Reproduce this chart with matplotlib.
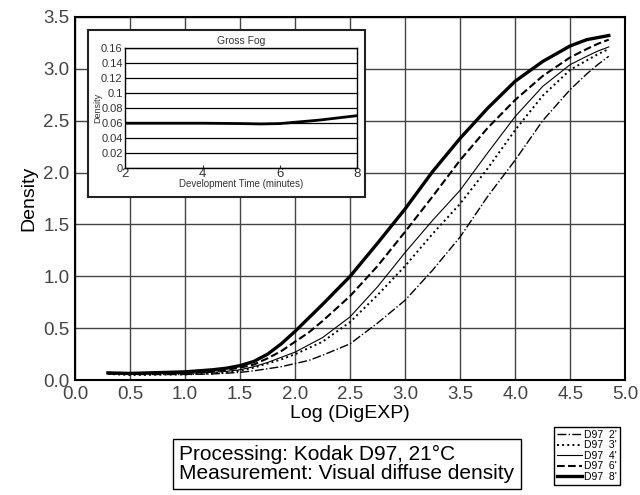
import numpy as np
import matplotlib
matplotlib.use("Agg")
import matplotlib.pyplot as plt
from matplotlib.patches import Rectangle

plt.rcParams['font.family'] = ['Liberation Sans', 'DejaVu Sans']

# Kurven ablesen: Log(DigEXP) gegen Dichte
log_exp = [0.3, 0.5, 1.0, 1.25, 1.375, 1.5, 1.625, 1.75, 1.875, 2.0, 2.125, 2.25, 2.5,
           2.75, 3.0, 3.25, 3.5, 3.75, 4.0, 4.25, 4.5, 4.65, 4.75, 4.85]
d97_2 = [0.06, 0.055, 0.055, 0.06, 0.067, 0.075, 0.09, 0.11, 0.13, 0.16, 0.19, 0.24, 0.35,
         0.55, 0.77, 1.06, 1.38, 1.77, 2.12, 2.50, 2.80, 2.95, 3.04, 3.12]
d97_3 = [0.06, 0.05, 0.055, 0.065, 0.075, 0.09, 0.12, 0.16, 0.20, 0.25, 0.31, 0.37, 0.56,
         0.82, 1.10, 1.41, 1.70, 2.04, 2.41, 2.74, 2.99, 3.08, 3.14, 3.19]
d97_4 = [0.065, 0.06, 0.065, 0.075, 0.085, 0.10, 0.13, 0.17, 0.22, 0.27, 0.34, 0.41, 0.61,
         0.90, 1.23, 1.54, 1.83, 2.19, 2.54, 2.83, 3.04, 3.12, 3.17, 3.21]
d97_6 = [0.07, 0.065, 0.07, 0.085, 0.10, 0.12, 0.15, 0.21, 0.28, 0.37, 0.46, 0.57, 0.81,
         1.10, 1.43, 1.77, 2.12, 2.43, 2.70, 2.93, 3.11, 3.19, 3.24, 3.28]
d97_8 = [0.07, 0.065, 0.08, 0.10, 0.115, 0.14, 0.18, 0.25, 0.35, 0.47, 0.60, 0.73, 1.00,
         1.32, 1.65, 2.01, 2.33, 2.62, 2.88, 3.07, 3.22, 3.28, 3.30, 3.32]

series = [d97_2, d97_3, d97_4, d97_6, d97_8]
labels = ["D97  2'", "D97  3'", "D97  4'", "D97  6'", "D97  8'"]
styles = [('-.', 1.0), (':', 1.4), ('-', 0.8), ('--', 1.5), ('-', 2.4)]

# Schleier (Gross Fog)
dev_time = [2, 3, 4, 5, 5.5, 6, 7, 8]
fog = [0.060, 0.060, 0.060, 0.0595, 0.059, 0.0595, 0.064, 0.070]

fig = plt.figure(figsize=(6.4, 4.95), dpi=100)
ax = fig.add_axes([0.117, 0.232, 0.860, 0.734])

for y, lab, (ls, lw) in zip(series, labels, styles):
    ax.plot(log_exp, y, color='black', linestyle=ls, linewidth=lw, label=lab,
            solid_joinstyle='round')

ax.set_xlim(0, 5)
ax.set_ylim(0, 3.5)
ax.set_xticks(np.arange(0, 5.01, 0.5))
ax.set_yticks(np.arange(0, 3.51, 0.5))
ax.xaxis.set_major_formatter(matplotlib.ticker.FormatStrFormatter('%.1f'))
ax.yaxis.set_major_formatter(matplotlib.ticker.FormatStrFormatter('%.1f'))
ax.tick_params(length=0, labelsize=13.5, colors='#444444', pad=4)
ax.grid(True, color='#444444', linewidth=1.0)
for s in ax.spines.values():
    s.set_linewidth(1.5)
ax.set_xlabel('Log (DigEXP)', fontsize=14, labelpad=2)
ax.set_ylabel('Density', fontsize=14, labelpad=4)

# Legende unten rechts
fig.legend(loc='lower right', bbox_to_anchor=(0.977, 0.01), fontsize=7.5,
           frameon=True, fancybox=False, edgecolor='black', handlelength=2.4,
           handletextpad=0.2, labelspacing=0.05, borderpad=0.3, framealpha=1)

# Textkasten
fig.text(0.28, 0.063, 'Processing: Kodak D97, 21\u00b0C\nMeasurement: Visual diffuse density',
         fontsize=15, va='center', ha='left', linespacing=1.0,
         bbox=dict(boxstyle='square,pad=0.3', facecolor='white', edgecolor='black', lw=1))

# Einsatzbild mit Rahmen
fig.patches.append(Rectangle((0.138, 0.602), 0.432, 0.337, transform=fig.transFigure,
                             facecolor='white', edgecolor='#222222', linewidth=1.5, zorder=5))
ins = fig.add_axes([0.196, 0.660, 0.362, 0.243], zorder=6)
ins.plot(dev_time, fog, color='black', linewidth=2.0)
ins.set_xlim(2, 8)
ins.set_ylim(0, 0.16)
ins.set_xticks([2, 4, 6, 8])
ins.set_yticks(np.arange(0, 0.161, 0.02))
ins.set_yticklabels(['0', '0.02', '0.04', '0.06', '0.08', '0.1', '0.12', '0.14', '0.16'])
ins.yaxis.grid(True, color='black', linewidth=0.9)
ins.tick_params(axis='y', length=0, labelsize=8, colors='#333333', pad=2)
ins.tick_params(axis='x', direction='in', length=2, labelsize=9.5, colors='#333333', pad=0)
ins.set_title('Gross Fog', fontsize=7.5, color='#333333', pad=3)
ins.set_xlabel('Development Time (minutes)', fontsize=7, color='#333333', labelpad=-1)
ins.set_ylabel('Density', fontsize=6.5, color='#333333', labelpad=-1)
for s in ins.spines.values():
    s.set_linewidth(1.0)

fig.savefig('out.png', dpi=100)
